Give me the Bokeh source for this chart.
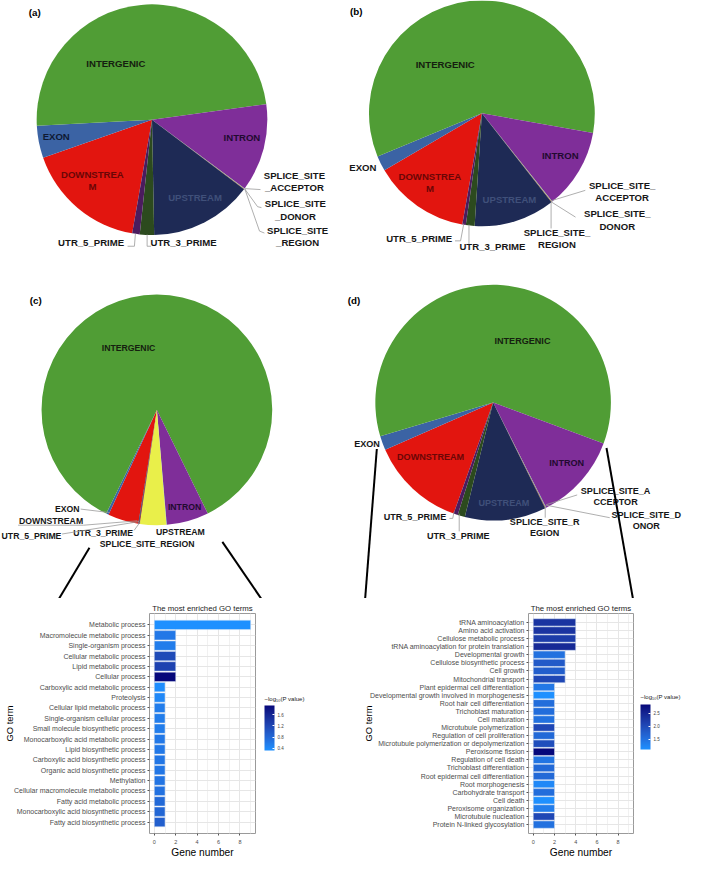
import numpy as np
from bokeh.plotting import figure
from bokeh.models import (Range1d, FactorRange, LinearColorMapper, ColorBar,
                          FixedTicker, ColumnDataSource, PrintfTickFormatter)
from bokeh.layouts import column, row
from bokeh.embed import file_html
from bokeh.resources import INLINE
from bokeh.core.properties import value

# ---------------------------------------------------------------- data
pie_categories = ["DOWNSTREAM", "EXON", "INTERGENIC", "INTRON", "SPLICE_SITE_ACCEPTOR",
                  "SPLICE_SITE_DONOR", "SPLICE_SITE_REGION", "UPSTREAM", "UTR_3_PRIME", "UTR_5_PRIME"]
pie_a_percent = [16.9, 4.5, 48.7, 12.3, 0.05, 0.05, 0.05, 14.4, 2.0, 1.05]
pie_b_percent = [13.8, 2.2, 59.0, 11.5, 0.05, 0.05, 0.05, 11.6, 1.25, 0.5]
pie_d_percent = [13.0, 1.95, 60.25, 11.9, 0.06, 0.05, 0.06, 11.15, 1.0, 0.58]
pie_c_categories = ["DOWNSTREAM", "EXON", "INTERGENIC", "INTRON", "SPLICE_SITE_REGION",
                    "UPSTREAM", "UTR_3_PRIME", "UTR_5_PRIME"]
pie_c_percent = [4.3, 0.35, 85.5, 5.9, 0.05, 3.7, 0.1, 0.1]

go_c_terms = ["Metabolic process", "Macromolecule metabolic process", "Single-organism process",
              "Cellular metabolic process", "Lipid metabolic process", "Cellular process",
              "Carboxylic acid metabolic process", "Proteolysis", "Cellular lipid metabolic process",
              "Single-organism cellular process", "Small molecule biosynthetic process",
              "Monocarboxylic acid metabolic process", "Lipid biosynthetic process",
              "Carboxylic acid biosynthetic process", "Organic acid biosynthetic process",
              "Methylation", "Cellular macromolecule metabolic process", "Fatty acid metabolic process",
              "Monocarboxylic acid biosynthetic process", "Fatty acid biosynthetic process"]
go_c_gene_number = [9, 2, 2, 2, 2, 2, 1, 1, 1, 1, 1, 1, 1, 1, 1, 1, 1, 1, 1, 1]
go_c_neglog10p = [0.32, 0.6, 0.55, 1.15, 1.25, 1.92, 0.35, 0.42, 0.55, 0.55, 0.55, 0.6, 0.6,
                  0.62, 0.62, 0.65, 0.68, 0.78, 0.82, 0.9]

go_d_terms = ["tRNA aminoacylation", "Amino acid activation", "Cellulose metabolic process",
              "tRNA aminoacylation for protein translation", "Developmental growth",
              "Cellulose biosynthetic process", "Cell growth", "Mitochondrial transport",
              "Plant epidermal cell differentiation", "Developmental growth involved in morphogenesis",
              "Root hair cell differentiation", "Trichoblast maturation", "Cell maturation",
              "Microtubule polymerization", "Regulation of cell proliferation",
              "Microtubule polymerization or depolymerization", "Peroxisome fission",
              "Regulation of cell death", "Trichoblast differentiation",
              "Root epidermal cell differentiation", "Root morphogenesis", "Carbohydrate transport",
              "Cell death", "Peroxisome organization", "Microtubule nucleation",
              "Protein N-linked glycosylation"]
go_d_gene_number = [4, 4, 4, 4, 3, 3, 3, 3] + [2] * 18
go_d_neglog10p = [2.3, 2.3, 2.2, 2.45, 1.5, 1.8, 1.75, 2.05, 1.4, 1.1, 1.55, 1.55, 1.5, 2.05,
                  1.6, 1.95, 2.84, 1.45, 1.6, 1.6, 1.2, 1.55, 1.1, 1.35, 2.05, 1.5]

go_x_limit = 9
cb_c_ticks = [0.4, 0.8, 1.2, 1.6]
cb_d_ticks = [1.5, 2.0, 2.5]

# ---------------------------------------------------------------- styles
S = 693 / 709.0
TOP_REF = 612
W = 693
H_TOP = 598
H_BOT = 860 - H_TOP
FONT = "Liberation Sans"

COL = {"DOWNSTREAM": "#E2150F", "EXON": "#3B63A4", "INTERGENIC": "#509D35", "INTRON": "#7F2E99",
       "SPLICE_SITE_ACCEPTOR": "#3A8FB5", "SPLICE_SITE_DONOR": "#E9EF4A",
       "SPLICE_SITE_REGION": "#8A1010", "UPSTREAM": "#1E2A55", "UTR_3_PRIME": "#2C4A1E",
       "UTR_5_PRIME": "#4B1C5E"}
COL_C = {"DOWNSTREAM": "#E2150F", "EXON": "#3B63A4", "INTERGENIC": "#509D35", "INTRON": "#7F2E99",
         "SPLICE_SITE_REGION": "#3A8FB5", "UPSTREAM": "#E9EF4A", "UTR_3_PRIME": "#8A1010",
         "UTR_5_PRIME": "#1E2A55"}


def Y(v):
    return TOP_REF - v


top = figure(width=W, height=H_TOP, x_range=Range1d(0, 709), y_range=Range1d(0, TOP_REF),
             output_backend="svg", toolbar_location=None, x_axis_location=None,
             y_axis_location=None, min_border=0)
top.grid.visible = False
top.outline_line_color = None
top.background_fill_color = "white"
top.border_fill_color = "white"


def draw_pie(cx, cy, r, cats, vals, colors, start_deg):
    vals = np.array(vals, float)
    ang = vals / vals.sum() * 360.0
    cum = np.concatenate([[0.0], np.cumsum(ang)])
    hi = np.deg2rad(start_deg - cum[:-1])
    lo = np.deg2rad(start_deg - cum[1:])
    src = ColumnDataSource(dict(cat=cats, start=lo, end=hi, color=[colors[c] for c in cats]))
    top.wedge(x=cx, y=Y(cy), radius=r, start_angle="start", end_angle="end",
              fill_color="color", line_color=None, source=src)


draw_pie(155, 122, 118, pie_categories, pie_a_percent, COL, -99.9)
draw_pie(492.5, 115.5, 115.5, pie_categories, pie_b_percent, COL, -100.0)
draw_pie(160, 419, 118, pie_c_categories, pie_c_percent, COL_C, -99.3)
draw_pie(504, 411.5, 120.5, pie_categories, pie_d_percent, COL, -109.6)

DK = "#15200f"
IN_DK = "#220a30"
RED_DK = "#6a0606"
UP_C = "#40507a"
BL = "#161616"

labels = {
    9.8 * S: [
        ("INTERGENIC", 118, 64, DK), ("EXON", 57, 139, "#0f1a33"), ("INTRON", 247, 140, IN_DK),
        ("DOWNSTREA\nM", 94, 184, RED_DK), ("UPSTREAM", 199, 202, UP_C),
        ("SPLICE_SITE\n_ACCEPTOR", 300.7, 185, BL), ("SPLICE_SITE\n_DONOR", 301.7, 214.3, BL),
        ("SPLICE_SITE\n_REGION", 304, 241.5, BL), ("UTR_5_PRIME", 92.7, 248, BL),
        ("UTR_3_PRIME", 187.3, 248, BL),
        ("INTERGENIC", 455, 65.7, DK), ("EXON", 370.7, 170.7, BL), ("INTRON", 572.7, 159, IN_DK),
        ("DOWNSTREA\nM", 439.3, 186, RED_DK), ("UPSTREAM", 520.7, 204, UP_C),
        ("SPLICE_SITE_\nACCEPTOR", 636, 195.7, BL), ("SPLICE_SITE_\nDONOR", 631, 224.5, BL),
        ("SPLICE_SITE_\nREGION", 569.3, 243.7, BL), ("UTR_5_PRIME", 428.3, 244, BL),
        ("UTR_3_PRIME", 503.3, 251.3, BL),
    ],
    8.9 * S: [
        ("INTERGENIC", 131, 356, DK), ("INTRON", 188.3, 518.3, IN_DK), ("EXON", 68.3, 520, BL),
        ("DOWNSTREAM", 51.7, 532.3, BL), ("UTR_5_PRIME", 31.7, 548.3, BL),
        ("UTR_3_PRIME", 105, 545, BL), ("UPSTREAM", 184, 544, BL),
        ("SPLICE_SITE_REGION", 150, 556.7, BL),
    ],
    9.3 * S: [
        ("INTERGENIC", 534, 348.7, DK), ("EXON", 375, 454.3, BL), ("DOWNSTREAM", 440, 466.7, RED_DK),
        ("INTRON", 579.3, 473.3, IN_DK), ("UPSTREAM", 515, 514, UP_C),
        ("SPLICE_SITE_A\nCCEPTOR", 629.3, 507.5, BL), ("SPLICE_SITE_D\nONOR", 660.7, 532.5, BL),
        ("SPLICE_SITE_R\nEGION", 556.7, 539.7, BL), ("UTR_5_PRIME", 424, 529, BL),
        ("UTR_3_PRIME", 468.3, 548.3, BL),
    ],
    10 * S: [("(a)", 35, 12.3, "#000000"), ("(b)", 364, 11.7, "#000000"),
             ("(c)", 36, 306.7, "#000000"), ("(d)", 361.7, 306.7, "#000000")],
}
for size, items in labels.items():
    top.text(x=[t[1] for t in items], y=[Y(t[2]) for t in items], text=[t[0] for t in items],
             text_color=[t[3] for t in items], text_font=value(FONT), text_font_style="bold",
             text_font_size="%.2fpx" % size, text_align="center", text_baseline="middle",
             text_line_height=1.12)

leaders = [
    [(250, 192.5), (266, 193.5)],
    [(250, 193), (263, 211), (267, 212)],
    [(250, 193), (265, 236), (270, 238)],
    [(130, 251.5), (137, 251.5), (138, 239)],
    [(150, 239.5), (150, 251.5), (154, 251.5)],
    [(563.3, 205), (598.3, 194.3)],
    [(563.3, 206), (588.3, 221.7)],
    [(563.3, 206.7), (563.3, 233.3)],
    [(465, 246), (470.7, 246), (474, 228.3)],
    [(479.3, 249.3), (479.3, 229.3)],
    [(82, 520.5), (111, 524)],
    [(18, 537), (85, 537), (140, 532.5)],
    [(63, 546), (141.7, 533.3)],
    [(136.7, 542.3), (142.7, 534)],
    [(558.3, 516), (590, 506)],
    [(558.3, 516.5), (623.3, 529.3)],
    [(557.3, 517), (557.3, 529.3)],
    [(459.3, 530), (462.7, 530), (464, 523.3)],
    [(469.3, 543.3), (469.3, 525.3)],
]
top.multi_line(xs=[[p[0] for p in l] for l in leaders], ys=[[Y(p[1]) for p in l] for l in leaders],
               line_color="#9a9a9a", line_width=0.8)

zoom_lines = [[(91, 560), (57, 617)], [(227, 554), (270, 617)],
              [(385, 459), (373, 613)], [(620, 458), (647, 612)]]
top.multi_line(xs=[[p[0] for p in l] for l in zoom_lines], ys=[[Y(p[1]) for p in l] for l in zoom_lines],
               line_color="#000000", line_width=2)


# ---------------------------------------------------------------- bar charts
def _lin(c):
    return np.where(c <= 0.04045, c / 12.92, ((c + 0.055) / 1.055) ** 2.4)


def _gam(c):
    return np.where(c <= 0.0031308, 12.92 * c, 1.055 * np.power(np.maximum(c, 0), 1 / 2.4) - 0.055)


_M = np.array([[0.4124, 0.3576, 0.1805], [0.2126, 0.7152, 0.0722], [0.0193, 0.1192, 0.9505]])
_Mi = np.linalg.inv(_M)
_WP = np.array([0.95047, 1.0, 1.08883])


def _f(t):
    return np.where(t > (6 / 29) ** 3, np.cbrt(t), t / (3 * (6 / 29) ** 2) + 4 / 29)


def _fi(t):
    return np.where(t > 6 / 29, t ** 3, 3 * (6 / 29) ** 2 * (t - 4 / 29))


def to_lab(h):
    rgb = np.array([int(h[i:i + 2], 16) for i in (1, 3, 5)]) / 255.0
    fx, fy, fz = _f(_M @ _lin(rgb) / _WP)
    return np.array([116 * fy - 16, 500 * (fx - fy), 200 * (fy - fz)])


def from_lab(lab):
    L, a, b = lab
    fy = (L + 16) / 116
    xyz = _fi(np.array([fy + a / 500, fy, fy - b / 200])) * _WP
    rgb = np.clip(_gam(_Mi @ xyz), 0, 1)
    return "#%02x%02x%02x" % tuple(int(round(v * 255)) for v in rgb)


LOW, HIGH = to_lab("#1E90FF"), to_lab("#06077A")
PAL = [from_lab(LOW + (HIGH - LOW) * t) for t in np.linspace(0, 1, 256)]


def bar_chart(terms, counts, lp, width, left, right, top_b, bottom, als, cb_ticks, cb_loc, cb_title_loc):
    mapper = LinearColorMapper(palette=PAL, low=min(lp), high=max(lp))
    pad = 0.05 * go_x_limit
    p = figure(width=width, height=H_BOT,
               y_range=FactorRange(factors=terms[::-1], range_padding=0.6,
                                   range_padding_units="absolute"),
               x_range=Range1d(-pad, go_x_limit + pad), title="The most enriched GO terms",
               output_backend="svg", toolbar_location=None, min_border_left=left,
               min_border_right=right, min_border_top=top_b, min_border_bottom=bottom)
    src = ColumnDataSource(dict(term=terms, n=counts, lp=lp))
    p.hbar(y="term", left=0, right="n", height=0.9, source=src,
           fill_color={"field": "lp", "transform": mapper}, line_color="#d8e4f5", line_width=0.5)
    p.title.text_font = FONT
    p.title.text_font_size = "7.8px"
    p.title.text_font_style = "normal"
    p.title.text_color = "#1a1a1a"
    p.title.align = "center"
    p.title.standoff = 2
    p.outline_line_color = "#9a9a9a"
    p.outline_line_width = 1
    p.xgrid.grid_line_color = "#e6e6e6"
    p.xgrid.minor_grid_line_color = "#f1f1f1"
    p.ygrid.grid_line_color = "#e6e6e6"
    p.xaxis.ticker = FixedTicker(ticks=[0, 2, 4, 6, 8], minor_ticks=[1, 3, 5, 7, 9])
    for ax in (p.xaxis[0], p.yaxis[0]):
        ax.axis_line_color = None
        ax.major_tick_line_color = "#555555"
        ax.major_tick_out = 2
        ax.major_tick_in = 0
        ax.minor_tick_line_color = None
        ax.major_label_standoff = 2
        ax.major_label_text_font = FONT
        ax.major_label_text_color = "#4d4d4d"
        ax.axis_label_text_font = FONT
        ax.axis_label_text_font_style = "normal"
        ax.axis_label_text_color = "#000000"
    p.xaxis.major_label_text_font_size = "5.5px"
    p.yaxis.major_label_text_font_size = "7px"
    p.xaxis.axis_label = "Gene number"
    p.xaxis.axis_label_text_font_size = "10.2px"
    p.xaxis.axis_label_standoff = 0
    p.yaxis.axis_label = "GO term"
    p.yaxis.axis_label_text_font_size = "9.4px"
    p.yaxis.axis_label_standoff = als
    cb = ColorBar(color_mapper=mapper, ticker=FixedTicker(ticks=cb_ticks),
                  formatter=PrintfTickFormatter(format="%.1f"), width=10, height=45,
                  major_label_text_font=FONT, major_label_text_font_size="4.5px",
                  major_label_text_color="#444444", label_standoff=3,
                  major_tick_line_color="white", major_tick_in=2, major_tick_out=0,
                  bar_line_color=None, border_line_color=None, background_fill_alpha=0,
                  location=cb_loc, padding=2, margin=0)
    p.add_layout(cb)
    # horizontal, invisible colour strip that only carries the legend title
    holder = ColorBar(color_mapper=mapper, orientation="horizontal", width=44, height=1,
                      scale_alpha=0, ticker=FixedTicker(ticks=[]), major_label_text_alpha=0,
                      major_tick_line_color=None, minor_tick_line_color=None,
                      bar_line_color=None, border_line_color=None, background_fill_alpha=0,
                      title="\u2212log\u2081\u2080(P value)", title_text_font=FONT,
                      title_text_font_size="6px", title_text_font_style="normal",
                      title_text_color="#222222", title_standoff=0, label_standoff=0,
                      location=cb_title_loc, padding=0, margin=0)
    p.add_layout(holder)
    return p


W_C = 342
bar_c = bar_chart(go_c_terms, go_c_gene_number, go_c_neglog10p, W_C, 149, 87, 15, 24, -4,
                  cb_c_ticks, (113, 81), (115, 131))
bar_d = bar_chart(go_d_terms, go_d_gene_number, go_d_neglog10p, W - W_C, 186, 60, 13, 22, -7,
                  cb_d_ticks, (110, 82), (112, 133))

layout = column(top, row(bar_c, bar_d, spacing=0), spacing=0)
open("out.html", "w").write(file_html(layout, INLINE))
